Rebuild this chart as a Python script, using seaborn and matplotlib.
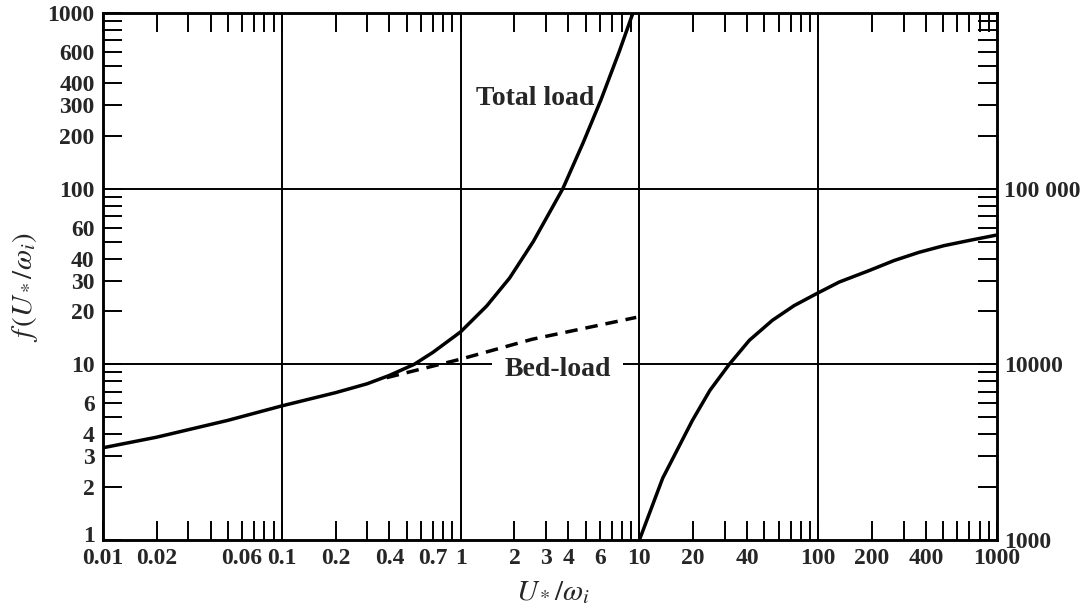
import numpy as np
import matplotlib
matplotlib.use("Agg")
import matplotlib.pyplot as plt
import matplotlib.transforms as mtransforms
from matplotlib.ticker import FixedLocator, FixedFormatter, LogLocator, NullFormatter
import seaborn as sns

# Total load, f(U*/w_i) on the left scale
total_x = [0.01, 0.02, 0.05, 0.1, 0.2, 0.3, 0.4, 0.55, 0.7, 1.0, 1.4, 1.88, 2.55,
           3.73, 4.85, 6.1, 7.7, 9.2]
total_y = [3.35, 3.85, 4.8, 5.8, 6.9, 7.75, 8.65, 10.0, 11.7, 15.3, 21.5, 31.0, 50.0,
           100.0, 183.0, 321.0, 600.0, 1000.0]

# Bed-load only (dashed), left scale
bed_x = [0.386, 1.0, 2.52, 9.6]
bed_y = [8.4, 10.7, 13.9, 18.5]

# Curve for U*/w_i from 10 to 1000, read on the right scale
upper_x = [10, 13.5, 19.8, 24.8, 31.8, 41.2, 55.4, 73.4, 99, 131, 193, 266, 366, 506, 698, 1000]
upper_y = [1000, 2250, 4800, 7110, 10000, 13700, 17800, 21600, 25400, 29400, 34200,
           39000, 43400, 47400, 50700, 54500]

x_ticks = [0.01, 0.02, 0.06, 0.1, 0.2, 0.4, 0.7, 1, 2, 3, 4, 6, 10, 20, 40, 100, 200, 400, 1000]
x_labels = ["0.01", "0.02", "0.06", "0.1", "0.2", "0.4", "0.7", "1", "2", "3", "4", "6",
            "10", "20", "40", "100", "200", "400", "1000"]
y_ticks = [1, 2, 3, 4, 6, 10, 20, 30, 40, 60, 100, 200, 300, 400, 600, 1000]
y_labels = ["1", "2", "3", "4", "6", "10", "20", "30", "40", "60", "100", "200", "300", "400", "600", "1000"]
y2_ticks = [1000, 10000, 100000]
y2_labels = ["1000", "10000", "100 000"]

grid_x = [0.1, 1, 10, 100]
grid_y = [10, 100]

sns.set_style("ticks")
plt.rcParams["font.family"] = ["Liberation Serif", "DejaVu Serif"]
plt.rcParams["mathtext.fontset"] = "stix"

fig = plt.figure(figsize=(10.85, 6.11), dpi=100)
ax = fig.add_axes([103 / 1085, 71 / 611, 894 / 1085, 527 / 611])
ax2 = ax.twinx()

for a in (ax, ax2):
    a.set_xscale("log")
    a.set_yscale("log")
ax.set_xlim(0.01, 1000)
ax.set_ylim(1, 1000)
ax2.set_ylim(1000, 1e6)

for gx in grid_x:
    ax.axvline(gx, color="black", lw=1.4, zorder=1)
for gy in grid_y:
    ax.axhline(gy, color="black", lw=1.4, zorder=1)

line_kw = dict(color="black", lw=2.5, estimator=None, sort=False, zorder=3)
sns.lineplot(x=total_x, y=total_y, ax=ax, **line_kw)
sns.lineplot(x=bed_x, y=bed_y, ax=ax, **line_kw)
ax.lines[-1].set_dashes([3.6, 2.3])
sns.lineplot(x=upper_x, y=upper_y, ax=ax2, **line_kw)

# Ticks
tick_font = dict(family="Liberation Serif", weight="bold", size=17)
ax.xaxis.set_major_locator(FixedLocator(x_ticks))
ax.xaxis.set_major_formatter(FixedFormatter(x_labels))
ax.xaxis.set_minor_locator(LogLocator(base=10, subs=np.arange(2, 10)))
ax.xaxis.set_minor_formatter(NullFormatter())
ax.yaxis.set_major_locator(FixedLocator(y_ticks))
ax.yaxis.set_major_formatter(FixedFormatter(y_labels))
ax.yaxis.set_minor_locator(LogLocator(base=10, subs=np.arange(2, 10)))
ax.yaxis.set_minor_formatter(NullFormatter())
ax.tick_params(axis="both", which="both", direction="in", length=14, width=1.4,
               top=True, right=False, color="black")
ax.tick_params(axis="x", which="major", pad=6)
ax.tick_params(axis="y", which="major", pad=6)
for lab in ax.get_xticklabels() + ax.get_yticklabels():
    lab.set_fontproperties(tick_font)

# lift the bottom-left "1" a little so it clears "0.01"
first = ax.get_yticklabels()[0]
first.set_transform(first.get_transform()
                    + mtransforms.ScaledTranslation(0, 4 / 72, fig.dpi_scale_trans))

ax2.yaxis.set_major_locator(FixedLocator(y2_ticks))
ax2.yaxis.set_major_formatter(FixedFormatter(y2_labels))
ax2.yaxis.set_minor_locator(LogLocator(base=10, subs=np.arange(2, 10)))
ax2.yaxis.set_minor_formatter(NullFormatter())
ax2.tick_params(axis="y", which="both", direction="in", length=14, width=1.4, pad=5, color="black")
for lab in ax2.get_yticklabels():
    lab.set_fontproperties(tick_font)

for a in (ax, ax2):
    for sp in a.spines.values():
        sp.set_linewidth(1.8)
        sp.set_color("black")
ax2.set_ylabel("")

# Axis titles
ax.set_xlabel(r"$U_*/\omega_i$", fontsize=21)
ax.set_ylabel(r"$f\,(U_*/\omega_i)$", fontsize=21)
ax.xaxis.set_label_coords(0.503, -0.075)
ax.yaxis.set_label_coords(-0.07, 0.48)

# Curve annotations
ax.text(2.6, 300, "Total load", ha="center", va="baseline", fontsize=20,
        fontweight="bold", zorder=2)
ax.text(3.48, 8.55, "Bed-load", ha="center", va="baseline", fontsize=20,
        fontweight="bold", zorder=2,
        bbox=dict(boxstyle="square,pad=0.45", facecolor="white", edgecolor="none"))

fig.savefig("out.png", dpi=100)
